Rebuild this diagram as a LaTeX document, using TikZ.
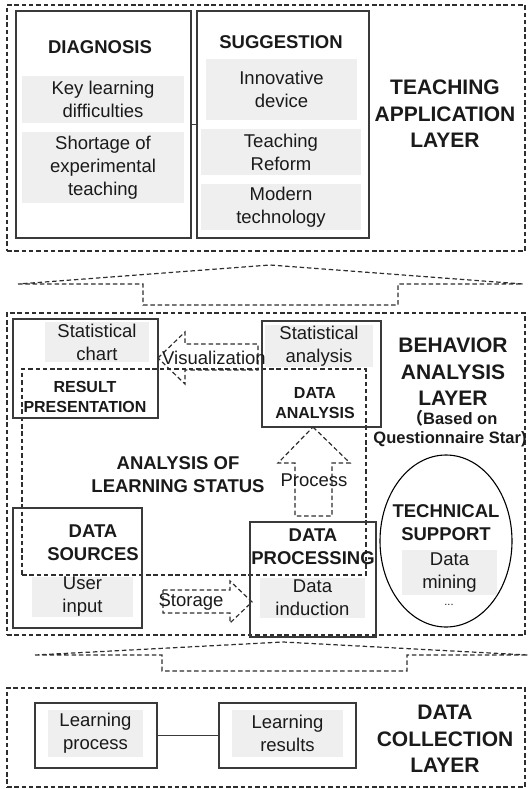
\documentclass[tikz,border=0pt]{standalone}
\usepackage{fontspec}
\setmainfont{Liberation Sans}
\newfontfamily\cjkfont{Noto Sans CJK SC}
\usetikzlibrary{fit,shapes.geometric}
\definecolor{boxc}{HTML}{3A3A3A}
\definecolor{dashc}{HTML}{2E2E2E}
\definecolor{grayf}{HTML}{EFEFEF}
\definecolor{txtc}{HTML}{1A1A1A}
\tikzset{
  box/.style={draw=boxc, line width=1.6pt, inner sep=0pt, outer sep=0pt},
  gbox/.style={fill=grayf, draw=none, inner sep=0pt, outer sep=0pt},
  dline/.style={draw=dashc, line width=1.2pt, dash pattern=on 4.5pt off 2.8pt},
  dbox/.style={dline, inner sep=0pt, outer sep=0pt},
  txt/.style={align=center, text=txtc, inner sep=0pt, font=\fontsize{18.5}{23}\selectfont},
  ttl/.style={align=center, text=txtc, inner sep=0pt, font=\bfseries\fontsize{18.5}{23}\selectfont},
  sttl/.style={align=center, text=txtc, inner sep=0pt, font=\bfseries\fontsize{16}{20}\selectfont},
  layer/.style={align=center, text=txtc, inner sep=0pt, font=\bfseries\fontsize{21}{26.5}\selectfont},
  conn/.style={draw=boxc, line width=1.4pt},
}
\begin{document}
\begin{tikzpicture}[x=1pt,y=-1pt]
\useasboundingbox (0,0) rectangle (528,789);

% ---------- Teaching application layer ----------
\node[dbox, fit={(7,5) (525,251)}] (tal) {};
\node[box, fit={(16,11) (191,238)}] (diag) {};
\node[ttl] (diagt) at (100,47) {DIAGNOSIS};
\node[gbox, fit={(22,76) (184,123)}] (g1) {};
\node[txt] (g1t) at (g1) {Key learning\\difficulties};
\node[gbox, fit={(22,132) (184,203)}] (g2) {};
\node[txt] (g2t) at (g2) {Shortage of\\experimental\\teaching};

\node[box, fit={(197,11) (369,238)}] (sugg) {};
\node[ttl] (suggt) at (281,42) {SUGGESTION};
\node[gbox, fit={(206,59) (357,120)}] (g3) {};
\node[txt] (g3t) at (g3) {Innovative\\device};
\node[gbox, fit={(201,129) (361,175)}] (g4) {};
\node[txt] (g4t) at (g4) {Teaching\\Reform};
\node[gbox, fit={(201,184) (361,230)}] (g5) {};
\node[txt] (g5t) at (g5) {Modern\\technology};
\draw[conn] (diag.east) -- (sugg.west);
\node[layer] (talt) at (445,114) {TEACHING\\APPLICATION\\LAYER};

% ---------- up arrow 1 ----------
\draw[dline] (18,284) -- (143,284) -- (143,305) -- (398,305) -- (398,284) -- (523,284) -- (270,265) -- cycle;

% ---------- Behavior analysis layer ----------
\node[dbox, fit={(7,313) (525,635)}] (bal) {};
\node[dbox, fit={(22,369) (366,575)}] (als) {};
\node[ttl] (alst) at (178,475) {ANALYSIS OF\\LEARNING STATUS};

\node[box, fit={(13,319) (158,418)}] (rp) {};
\node[gbox, fit={(45,322) (149,362)}] (g6) {};
\node[txt] (g6t) at (g6) {Statistical\\chart};
\node[sttl] (rpt) at (85,397) {RESULT\\PRESENTATION};

\node[box, fit={(262,321) (381,427)}] (da) {};
\node[gbox, fit={(265,325) (373,367)}] (g7) {};
\node[txt] (g7t) at (g7) {Statistical\\analysis};
\node[sttl] (dat) at (315,403) {DATA\\ANALYSIS};

% visualization arrow (left)
\draw[dline] (158,358) -- (185,332) -- (185,344) -- (258,344) -- (258,370) -- (185,370) -- (185,384) -- cycle;
\node[txt] (vis) at (214,358) {Visualization};

% process arrow (up)
\draw[dline] (313,427) -- (350,463) -- (332,463) -- (332,516) -- (295,516) -- (295,463) -- (278,463) -- cycle;
\node[txt] (proc) at (314,480) {Process};

\node[box, fit={(13,508) (142,628)}] (ds) {};
\node[ttl] (dst) at (93,543) {DATA\\SOURCES};
\node[gbox, fit={(32,577) (133,617)}] (g8) {};
\node[txt] (g8t) at (g8) {User\\input};

% storage arrow (right)
\draw[dline] (163,590) -- (230,590) -- (230,581) -- (252,602) -- (230,623) -- (230,613) -- (163,613) -- cycle;
\node[txt] (stor) at (191,602) {Storage};

\node[box, fit={(250,522) (376,637)}] (dp) {};
\node[ttl] (dpt) at (313,547) {DATA\\PROCESSING};
\node[gbox, fit={(260,578) (365,618)}] (g9) {};
\node[txt] (g9t) at (g9) {Data\\induction};

\node[draw=black, line width=1.1pt, ellipse, minimum width=132pt, minimum height=172pt, inner sep=0pt] (ts) at (446,541) {};
\node[ttl] (tst) at (446,523) {TECHNICAL\\SUPPORT};
\node[gbox, fit={(402,550) (497,595)}] (g10) {};
\node[txt] (g10t) at (g10) {Data\\mining};
\node[txt, font=\fontsize{11}{13}\selectfont] (dots) at (449,605) {...};

\node[layer] (balt) at (453,372) {BEHAVIOR\\ANALYSIS\\LAYER};
\node[sttl, font=\bfseries\fontsize{16.5}{19.5}\selectfont, anchor=base] (based1) at (452,424) {{\cjkfont （}Based on};
\node[sttl, font=\bfseries\fontsize{16.5}{19.5}\selectfont, anchor=base] (based2) at (450,443) {Questionnaire Star)};

% ---------- up arrow 2 ----------
\draw[dline] (35,655) -- (162,655) -- (162,671) -- (407,671) -- (407,655) -- (528,655) -- (283,642) -- cycle;

% ---------- Data collection layer ----------
\node[dbox, fit={(7,688) (525,787)}] (dcl) {};
\node[box, fit={(35,703) (157,768)}] (lp) {};
\node[gbox, fit={(48,710) (143,757)}] (g11) {};
\node[txt] (g11t) at (g11) {Learning\\process};
\node[box, fit={(219,703) (356,768)}] (lr) {};
\node[gbox, fit={(232,710) (343,757)}] (g12) {};
\node[txt] (g12t) at (g12) {Learning\\results};
\draw[conn] (lp.east) -- (lr.west);
\node[layer] (dclt) at (445,739) {DATA\\COLLECTION\\LAYER};
\end{tikzpicture}
\end{document}
